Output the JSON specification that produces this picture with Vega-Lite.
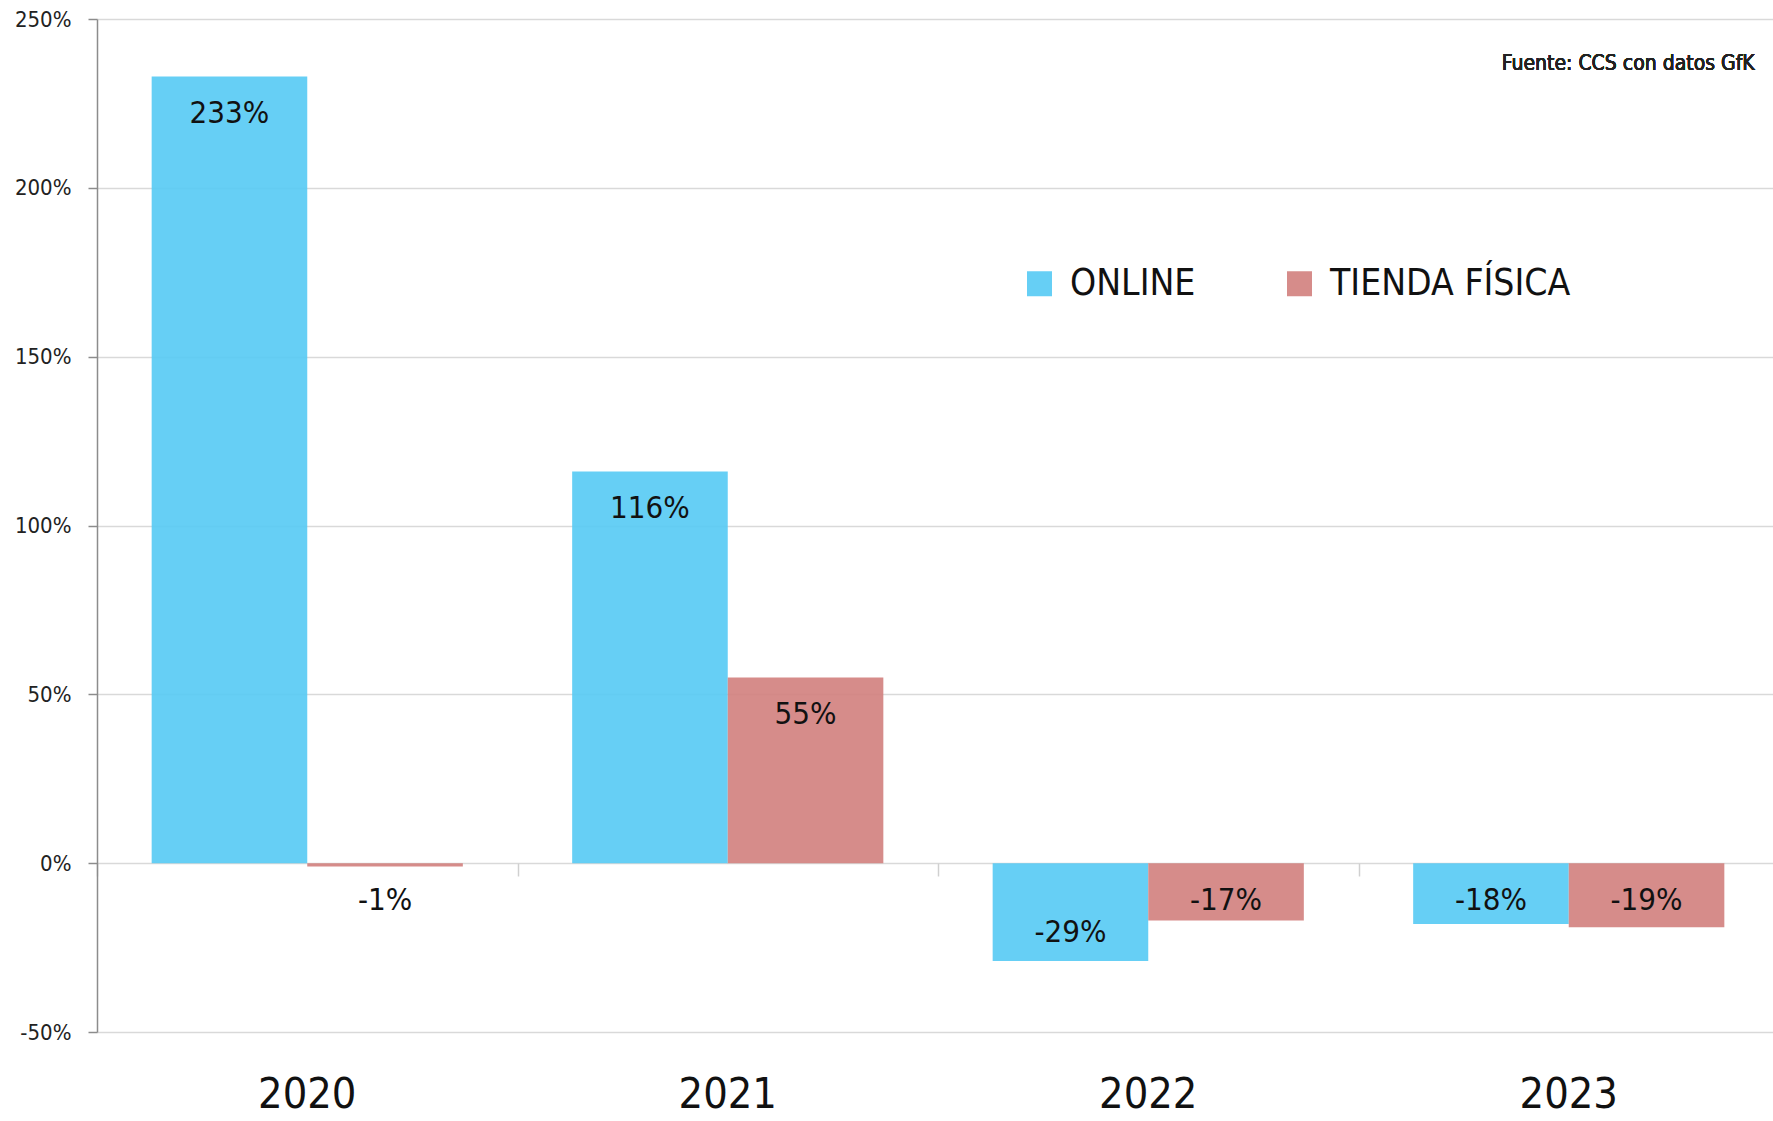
{
  "$schema": "https://vega.github.io/schema/vega-lite/v6.json",
  "width": 1682,
  "height": 1013,
  "autosize": "none",
  "padding": {"left": 97, "top": 19, "right": 0, "bottom": 89},
  "background": "white",
  "config": {
    "view": {"stroke": null},
    "font": "DejaVu Sans Condensed, Roboto, sans-serif",
    "text": {"font": "DejaVu Sans Condensed, Roboto, sans-serif"},
    "axis": {"labelFont": "DejaVu Sans Condensed, Roboto, sans-serif"},
    "legend": {"labelFont": "DejaVu Sans Condensed, Roboto, sans-serif"}
  },
  "data": {
    "values": [
      {"year": "2020", "serie": "ONLINE", "value": 2.33, "label": "233%"},
      {"year": "2020", "serie": "TIENDA FÍSICA", "value": -0.01, "label": "-1%"},
      {"year": "2021", "serie": "ONLINE", "value": 1.16, "label": "116%"},
      {"year": "2021", "serie": "TIENDA FÍSICA", "value": 0.55, "label": "55%"},
      {"year": "2022", "serie": "ONLINE", "value": -0.29, "label": "-29%"},
      {"year": "2022", "serie": "TIENDA FÍSICA", "value": -0.17, "label": "-17%"},
      {"year": "2023", "serie": "ONLINE", "value": -0.18, "label": "-18%"},
      {"year": "2023", "serie": "TIENDA FÍSICA", "value": -0.19, "label": "-19%"}
    ]
  },
  "resolve": {"scale": {"x": "independent"}, "axis": {"x": "independent"}},
  "layer": [
    {
      "layer": [
        {
          "mark": {"type": "bar", "opacity": 0.9},
          "encoding": {
            "x": {
              "field": "year", "type": "nominal",
              "scale": {"paddingInner": 0.26, "paddingOuter": 0.13},
              "axis": null
            },
            "xOffset": {"field": "serie", "type": "nominal", "sort": ["ONLINE", "TIENDA FÍSICA"], "scale": {"paddingInner": 0, "paddingOuter": 0}},
            "y": {
              "field": "value", "type": "quantitative",
              "scale": {"domain": [-0.5, 2.5], "nice": false, "zero": false},
              "axis": {
                "title": null, "values": [-0.5, 0, 0.5, 1, 1.5, 2, 2.5], "format": ".0%",
                "labelExpr": "replace(datum.label, '−', '-')",
                "grid": true, "gridColor": "#d9d9d9", "gridWidth": 1.5,
                "domainColor": "#8c8c8c", "domainWidth": 1.5, "tickColor": "#8c8c8c", "tickWidth": 1.5, "tickSize": 9,
                "labelFontSize": 22, "labelColor": "#222", "labelPadding": 17
              }
            },
            "color": {
              "field": "serie", "type": "nominal",
              "scale": {"domain": ["ONLINE", "TIENDA FÍSICA"], "range": ["#55CAF4", "#D1807D"]},
              "legend": {
                "title": null, "orient": "none", "legendX": 924, "legendY": 246, "direction": "horizontal",
                "symbolType": "square", "symbolSize": 625, "symbolOpacity": 0.9, "symbolStrokeWidth": 0,
                "labelFontSize": 37, "labelColor": "#111", "labelOffset": 12, "columnPadding": 85, "padding": 0, "labelLimit": 600
              }
            }
          }
        },
        {
          "transform": [{"filter": "datum.value > 0"}],
          "mark": {"type": "text", "baseline": "middle", "dy": 38, "fontSize": 31, "color": "#111"},
          "encoding": {
            "x": {"field": "year", "type": "nominal", "axis": null},
            "xOffset": {"field": "serie", "type": "nominal", "sort": ["ONLINE", "TIENDA FÍSICA"]},
            "y": {"field": "value", "type": "quantitative"},
            "text": {"field": "label", "type": "nominal"}
          }
        },
        {
          "transform": [{"filter": "datum.value <= 0 && datum.value > -0.25"}],
          "mark": {"type": "text", "baseline": "middle", "dy": 38, "fontSize": 31, "color": "#111"},
          "encoding": {
            "x": {"field": "year", "type": "nominal", "axis": null},
            "xOffset": {"field": "serie", "type": "nominal", "sort": ["ONLINE", "TIENDA FÍSICA"]},
            "y": {"datum": 0, "type": "quantitative"},
            "text": {"field": "label", "type": "nominal"}
          }
        },
        {
          "transform": [{"filter": "datum.value <= -0.25"}],
          "mark": {"type": "text", "baseline": "middle", "dy": -28, "fontSize": 31, "color": "#111"},
          "encoding": {
            "x": {"field": "year", "type": "nominal", "axis": null},
            "xOffset": {"field": "serie", "type": "nominal", "sort": ["ONLINE", "TIENDA FÍSICA"]},
            "y": {"field": "value", "type": "quantitative"},
            "text": {"field": "label", "type": "nominal"}
          }
        },
        {
          "mark": {"type": "text", "align": "right", "baseline": "middle", "dx": 186, "fontSize": 21, "color": "#222", "text": "Fuente: CCS con datos GfK"},
          "encoding": {
            "x": {"datum": "2023", "type": "nominal", "axis": null},
            "y": {"datum": 2.367, "type": "quantitative"}
          }
        }
      ]
    },
    {
      "mark": {"type": "point", "opacity": 0},
      "encoding": {
        "x": {
          "field": "year", "type": "nominal",
          "scale": {"type": "band", "paddingInner": 0, "paddingOuter": 0},
          "axis": {
            "orient": "bottom", "offset": -169, "title": null, "labels": false, "domain": false, "grid": false,
            "ticks": true, "tickBand": "extent", "tickSize": 13, "tickColor": "#d0d0d0", "tickWidth": 1.5
          }
        },
        "y": {"datum": 0, "type": "quantitative"}
      }
    },
    {
      "mark": {"type": "point", "opacity": 0},
      "encoding": {
        "x": {
          "field": "year", "type": "nominal",
          "scale": {"type": "band", "paddingInner": 0, "paddingOuter": 0},
          "axis": {
            "orient": "bottom", "title": null, "domain": false, "ticks": false, "grid": false,
            "labelAngle": 0, "labelFontSize": 43, "labelColor": "#111", "labelPadding": 41
          }
        },
        "y": {"datum": 0, "type": "quantitative"}
      }
    }
  ]
}
